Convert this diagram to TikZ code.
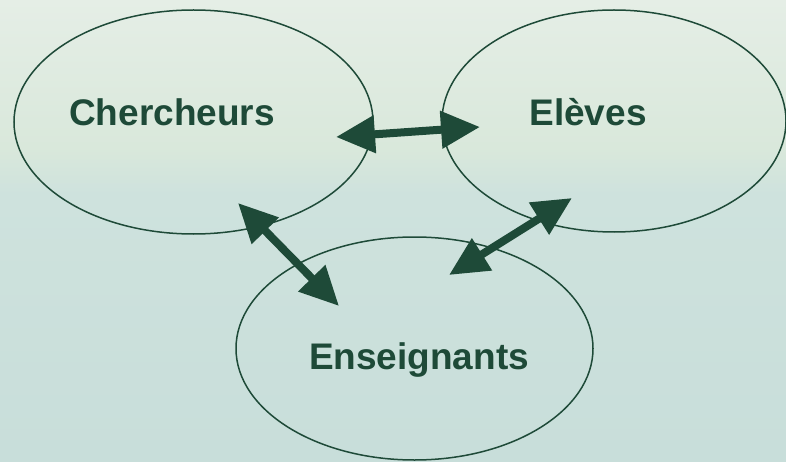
\documentclass[tikz,border=0pt]{standalone}
\usepackage{fontspec}
\setmainfont{Liberation Sans}
\usetikzlibrary{shapes.geometric,arrows.meta}
\definecolor{dkgreen}{HTML}{1E4A38}
\definecolor{bgA}{HTML}{E5EEE6}
\definecolor{bgB}{HTML}{D9E8DB}
\definecolor{bgC}{HTML}{CEE2DD}
\definecolor{bgD}{HTML}{C8DEDA}
\pgfdeclareverticalshading{bgshade}{100bp}{color(0bp)=(bgD); color(25bp)=(bgD); color(54bp)=(bgC); color(59bp)=(bgB); color(75bp)=(bgA); color(100bp)=(bgA)}
\tikzset{
  bubble/.style={draw=dkgreen, line width=1.5pt, ellipse, inner sep=0pt},
  label/.style={text=dkgreen, font=\fontsize{37}{40}\selectfont\bfseries, anchor=base, inner sep=0pt},
  link/.style={draw=dkgreen, line width=8pt, {Triangle[length=39pt,width=36pt]}-{Triangle[length=39pt,width=36pt]}}
}
\begin{document}
\begin{tikzpicture}[x=1pt,y=-1pt]
\useasboundingbox (0,0) rectangle (786,462);
\shade[shading=bgshade] (0,0) rectangle (786,462);
\node[bubble, minimum width=359pt, minimum height=224pt] (ch) at (193.5,122) {};
\node[bubble, minimum width=344pt, minimum height=222pt] (el) at (614,121) {};
\node[bubble, minimum width=357pt, minimum height=223pt] (en) at (414.5,348.5) {};
\node[label] (tch) at (172,126) {Chercheurs};
\node[label] (tel) at (588,126) {Elèves};
\node[label] (ten) at (419,369) {Enseignants};
\coordinate (a1) at (336,137);
\coordinate (b1) at (480,127);
\coordinate (a2) at (238,203);
\coordinate (b2) at (339,306);
\coordinate (a3) at (572,198);
\coordinate (b3) at (449,275);
\draw[link] (a1) -- (b1);
\draw[link] (a2) -- (b2);
\draw[link] (a3) -- (b3);
\end{tikzpicture}
\end{document}
